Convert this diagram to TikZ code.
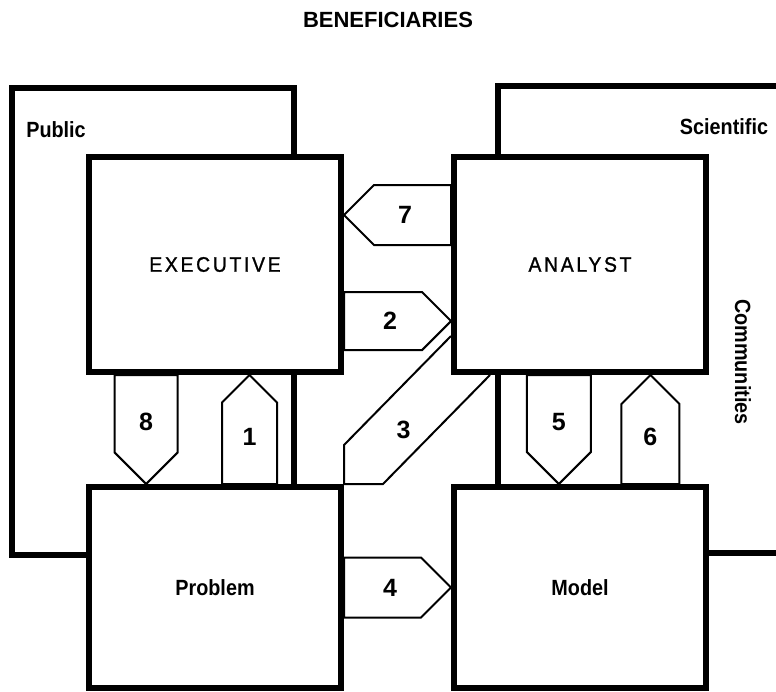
\documentclass[tikz,border=0pt]{standalone}
\usepackage{fontspec}
\setmainfont{Liberation Sans}
\newfontfamily\narrowsans[FakeStretch=0.9]{Liberation Sans}
\newfontfamily\rolesans[FakeStretch=0.92, FakeBold=1.2, LetterSpace=13]{Liberation Sans}
\usepackage{tikz}
\usetikzlibrary{positioning, calc}
\tikzset{tag/.style={
    font=\narrowsans\bfseries\fontsize{22}{26}\selectfont
}}
\tikzset{role/.style={
    font=\rolesans\fontsize{21}{25}\selectfont
}}
\tikzset{num/.style={
    font=\bfseries\fontsize{25}{29}\selectfont
}}
\tikzset{actor/.style={
    rectangle,
    draw,
    fill=white,
    line width=6pt,
    minimum width=252pt,
    inner sep=0pt,
    tag
}}
\tikzset{flow/.style={
    draw,
    fill=white,
    line width=2pt
}}
\tikzset{frame/.style={
    line width=6pt
}}
\newcommand{\blockarrow}[4]{%
  \coordinate (shoulder) at ($(#2)!#3!(#1)$);
  \draw [flow] ($(#1)!#3!90:(#2)$) -- ($(shoulder)!#3!90:(#2)$) -- (#2)
      -- ($(shoulder)!#3!-90:(#2)$) -- ($(#1)!#3!-90:(#2)$) -- cycle;
  \node (n#4) [num] at ($(#1)!0.43!(#2)$) {#4};
}

\begin{document}
\begin{tikzpicture}[x=1pt, y=-1pt]
    \useasboundingbox (0,0) rectangle (776,691);
    \clip (0,0) rectangle (776,691);
    % Communities behind the roles
    \draw [frame] (294,487) -- (294,88) -- (12,88) -- (12,555) -- (100,555);
    \draw [frame] (498,487) -- (498,86) -- (790,86);
    \draw [frame] (700,553) -- (790,553);
    % Roles
    \node (exec)    [actor, role, minimum height=215pt] at (215,264.5) {EXECUTIVE};
    \node (analyst) [actor, role, minimum height=215pt, right=107pt of exec] {ANALYST};
    \node (problem) [actor, minimum height=201pt, below=109pt of exec] {Problem};
    \node (model)   [actor, minimum height=201pt, below=109pt of analyst] {Model};
    % Flows
    \coordinate (t7) at ($(analyst.north west)!0.276!(analyst.south west)$);
    \coordinate (h7) at (t7 -| exec.east);
    \blockarrow{t7}{h7}{30pt}{7}
    \coordinate (t2) at ($(exec.north east)!0.756!(exec.south east)$);
    \coordinate (h2) at (t2 -| analyst.west);
    \blockarrow{t2}{h2}{29pt}{2}
    \coordinate (h4) at (problem.east -| model.west);
    \blockarrow{problem.east}{h4}{30pt}{4}
    \coordinate (t8) at ($(exec.south west)!0.233!(exec.south east)$);
    \coordinate (h8) at (t8 |- problem.north);
    \blockarrow{t8}{h8}{31.5pt}{8}
    \coordinate (t1) at ($(problem.north west)!0.634!(problem.north east)$);
    \coordinate (h1) at (t1 |- exec.south);
    \blockarrow{t1}{h1}{27.5pt}{1}
    \coordinate (t5) at ($(analyst.south west)!0.418!(analyst.south east)$);
    \coordinate (h5) at (t5 |- model.north);
    \blockarrow{t5}{h5}{32pt}{5}
    \coordinate (t6) at ($(model.north west)!0.773!(model.north east)$);
    \coordinate (h6) at (t6 |- analyst.south);
    \blockarrow{t6}{h6}{29pt}{6}
    % diagonal one, corner to corner
    \draw [flow, fill=none] ($(analyst.south west)+(0,-39)$) -- ($(problem.north east)+(0,-39)$)
        -- (problem.north east) -- ($(problem.north east)+(39,0)$) -- ($(analyst.south west)+(39,0)$);
    \node (n3) [num] at ($(problem.north east)!0.5!(analyst.south west)+(6,0)$) {3};
    % Labels
    \node (benef) at (388,20) [font=\bfseries\fontsize{22}{26}\selectfont] {BENEFICIARIES};
    \node (public) at (56,130) [tag] {Public};
    \node (scientific) at (724,127) [tag] {Scientific};
    \node (communities) at (743,362) [tag, rotate=-90] {Communities};
\end{tikzpicture}
\end{document}
